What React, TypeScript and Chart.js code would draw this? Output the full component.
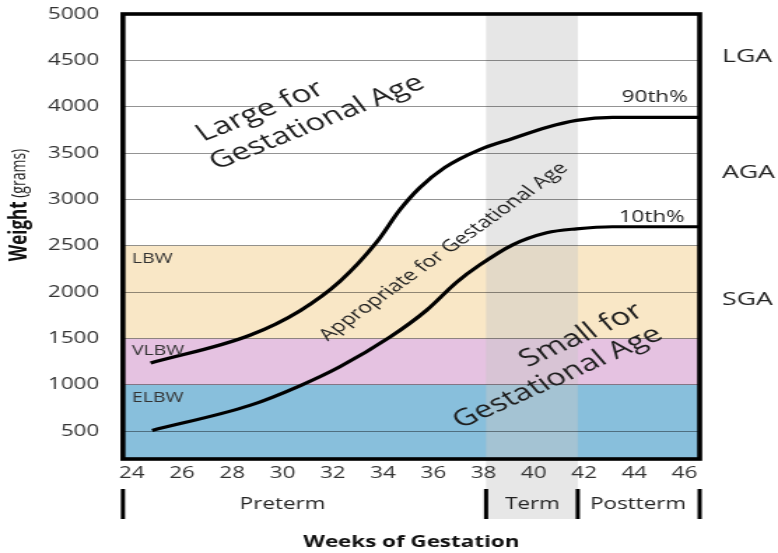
import React, { useEffect, useRef } from 'react';
import { Chart, registerables } from 'chart.js';

Chart.register(...registerables);

// ---------- data ----------
const weeks90 = [24.75, 28.7, 30.7, 32.3, 33.75, 34.67, 35.46, 36.45, 37.85, 39.16, 40.5, 41.7, 43.13, 46.6];
const grams90 = [1235, 1535, 1800, 2120, 2540, 2888, 3126, 3343, 3538, 3657, 3776, 3852, 3884, 3885];
const weeks10 = [24.81, 28.7, 30.69, 32.28, 34.27, 35.74, 36.94, 37.85, 39.16, 40.51, 41.7, 43.13, 46.6];
const grams10 = [508, 778, 990, 1195, 1514, 1806, 2109, 2293, 2510, 2640, 2683, 2705, 2705];

const xTicks = [24, 26, 28, 30, 32, 34, 36, 38, 40, 42, 44, 46];
const yTicks = [500, 1000, 1500, 2000, 2500, 3000, 3500, 4000, 4500, 5000];

const bandLabels = ['ELBW', 'VLBW', 'LBW'];
const bandFrom = [0, 1000, 1500];
const bandTo = [1000, 1500, 2500];

const periodLabels = ['Preterm', 'Term', 'Postterm'];
const periodFrom = [23.65, 38.1, 41.75];
const periodTo = [38.1, 41.75, 46.6];

const classLabels = ['LGA', 'AGA', 'SGA'];
const percentileLabels = ['90th%', '10th%'];

// ---------- layout / style ----------
const STRETCH = 1.4;
const W = Math.round(778 / STRETCH);
const H = 553;
const FONT = '"Open Sans", sans-serif';
const bandColors = ['#88bfdc', '#e5c2e1', '#f9e7c6'];
const classLabelY = [4545, 3289, 1915];
const percentileAt = [
  { x: 46.12, y: 4047 },
  { x: 46.0, y: 2759 },
];
const periodLabelAt = [30.0, 39.95, 44.15];
const annotations = [
  { text: 'Large for', x: 29.3, y: 3885, angle: -29, size: 24 },
  { text: 'Gestational Age', x: 31.55, y: 3765, angle: -29, size: 23.5 },
  { text: 'Appropriate for Gestational Age', x: 36.6, y: 2399, angle: -45, size: 16.5 },
  { text: 'Small for', x: 42.1, y: 1471, angle: -32, size: 24 },
  { text: 'Gestational Age', x: 41.15, y: 1016, angle: -32, size: 23.5 },
];

const decorPlugin = {
  id: 'decor',
  beforeDraw(chart: any) {
    const { ctx, chartArea, scales } = chart;
    const { left, right, top, bottom } = chartArea;
    const x = scales.x;
    const y = scales.y;
    ctx.save();
    ctx.fillStyle = '#ffffff';
    ctx.fillRect(0, 0, chart.width, chart.height);
    for (let i = 0; i < bandLabels.length; i++) {
      const y1 = Math.max(y.getPixelForValue(bandTo[i]), top);
      const y2 = Math.min(y.getPixelForValue(bandFrom[i]), bottom);
      ctx.fillStyle = bandColors[i];
      ctx.fillRect(left, y1, right - left, y2 - y1);
    }
    const tx1 = x.getPixelForValue(periodFrom[1]);
    const tx2 = x.getPixelForValue(periodTo[1]);
    ctx.fillStyle = 'rgba(200,200,200,0.45)';
    ctx.fillRect(tx1, top, tx2 - tx1, bottom - top);
    ctx.fillStyle = '#e7e7e7';
    ctx.fillRect(tx1, bottom, tx2 - tx1, 519 - bottom);
    ctx.restore();
  },
  afterDraw(chart: any) {
    const { ctx, chartArea, scales } = chart;
    const { left, right, top, bottom } = chartArea;
    const x = scales.x;
    const y = scales.y;
    ctx.save();
    // frame
    ctx.strokeStyle = '#000';
    ctx.lineWidth = 3.6;
    ctx.strokeRect(left, top, right - left, bottom - top);

    // band labels
    ctx.fillStyle = '#333';
    ctx.font = `14px ${FONT}`;
    ctx.textAlign = 'left';
    ctx.textBaseline = 'middle';
    for (let i = 0; i < bandLabels.length; i++) {
      ctx.fillText(bandLabels[i], x.getPixelForValue(24), y.getPixelForValue(bandTo[i]) + 13);
    }

    // percentile labels
    ctx.fillStyle = '#222';
    ctx.font = `16px ${FONT}`;
    ctx.textAlign = 'right';
    ctx.textBaseline = 'alphabetic';
    percentileLabels.forEach((t, i) => {
      ctx.fillText(t, x.getPixelForValue(percentileAt[i].x), y.getPixelForValue(percentileAt[i].y));
    });

    // class labels right
    ctx.font = `19px ${FONT}`;
    ctx.textAlign = 'left';
    ctx.textBaseline = 'middle';
    classLabels.forEach((t, i) => {
      ctx.fillText(t, right + 16, y.getPixelForValue(classLabelY[i]));
    });

    // rotated annotations
    annotations.forEach((a) => {
      ctx.save();
      ctx.translate(x.getPixelForValue(a.x), y.getPixelForValue(a.y));
      ctx.rotate((a.angle * Math.PI) / 180);
      ctx.font = `${a.size}px ${FONT}`;
      ctx.fillStyle = '#1e1e1e';
      ctx.textAlign = 'center';
      ctx.textBaseline = 'alphabetic';
      ctx.fillText(a.text, 0, 0);
      ctx.restore();
    });

    // period bars and labels
    const bounds = [periodFrom[0], ...periodTo];
    ctx.fillStyle = '#000';
    bounds.forEach((b) => {
      const px = x.getPixelForValue(b);
      ctx.fillRect(px - 1.5, 489, 3, 30);
    });
    ctx.fillStyle = '#222';
    ctx.font = `16px ${FONT}`;
    ctx.textAlign = 'center';
    ctx.textBaseline = 'middle';
    periodLabels.forEach((t, i) => {
      ctx.fillText(t, x.getPixelForValue(periodLabelAt[i]), 504);
    });

    // y axis title
    ctx.save();
    ctx.translate(14.3, 205);
    ctx.rotate(-Math.PI / 2);
    const bold = `bold 17px ${FONT}`;
    const norm = `14px ${FONT}`;
    ctx.font = bold;
    const w1 = ctx.measureText('Weight').width;
    ctx.font = norm;
    const w2 = ctx.measureText(' (grams)').width;
    const start = -(w1 + w2) / 2;
    ctx.textAlign = 'left';
    ctx.textBaseline = 'middle';
    ctx.fillStyle = '#111';
    ctx.font = bold;
    ctx.fillText('Weight', start, 0);
    ctx.font = norm;
    ctx.fillStyle = '#222';
    ctx.fillText(' (grams)', start + w1, 0);
    ctx.restore();

    ctx.restore();
  },
};

export default function App() {
  const ref = useRef<HTMLCanvasElement | null>(null);
  useEffect(() => {
    document.body.style.margin = '0';
    const canvas = ref.current;
    if (!canvas) return;
    const chart = new Chart(canvas, {
      type: 'line',
      data: {
        datasets: [
          {
            label: '90th%',
            data: weeks90.map((w, i) => ({ x: w, y: grams90[i] })),
            borderColor: '#000',
            borderWidth: 3.2,
            pointRadius: 0,
            fill: false,
            cubicInterpolationMode: 'monotone',
          },
          {
            label: '10th%',
            data: weeks10.map((w, i) => ({ x: w, y: grams10[i] })),
            borderColor: '#000',
            borderWidth: 3.2,
            pointRadius: 0,
            fill: false,
            cubicInterpolationMode: 'monotone',
          },
        ],
      },
      options: {
        animation: false,
        responsive: false,
        events: [],
        layout: { padding: { top: 14, right: W - 700 / STRETCH, left: 0, bottom: 0 } },
        plugins: { legend: { display: false }, tooltip: { enabled: false } },
        scales: {
          x: {
            type: 'linear',
            min: 23.65,
            max: 46.6,
            grid: { display: false, drawTicks: false },
            border: { display: false },
            afterBuildTicks: (s: any) => {
              s.ticks = xTicks.map((v) => ({ value: v }));
            },
            afterFit: (s: any) => {
              s.height = H - 459;
              s.paddingLeft = 0;
              s.paddingRight = 0;
            },
            ticks: {
              padding: 5,
              color: '#333',
              font: { family: FONT, size: 16 },
              callback: (v: any) => String(v),
            },
            title: {
              display: true,
              text: 'Weeks of Gestation',
              color: '#111',
              font: { family: FONT, size: 16, weight: 'bold' },
              padding: { top: 0, bottom: 1 },
            },
          },
          y: {
            type: 'linear',
            min: 200,
            max: 5000,
            grid: { color: 'rgba(0,0,0,0.42)', lineWidth: 1, drawTicks: false },
            border: { display: false },
            afterBuildTicks: (s: any) => {
              s.ticks = yTicks.map((v) => ({ value: v }));
            },
            afterFit: (s: any) => {
              s.width = 123 / STRETCH;
              s.paddingTop = 0;
              s.paddingBottom = 0;
            },
            ticks: {
              padding: 17,
              color: '#333',
              font: { family: FONT, size: 16 },
              callback: (v: any) => String(v),
            },
          },
        },
      } as any,
      plugins: [decorPlugin],
    });
    return () => chart.destroy();
  }, []);
  return (
    <div style={{ width: 778, height: H }}>
      <canvas ref={ref} width={W} height={H} style={{ width: '778px', height: H + 'px', display: 'block' }} />
    </div>
  );
}
